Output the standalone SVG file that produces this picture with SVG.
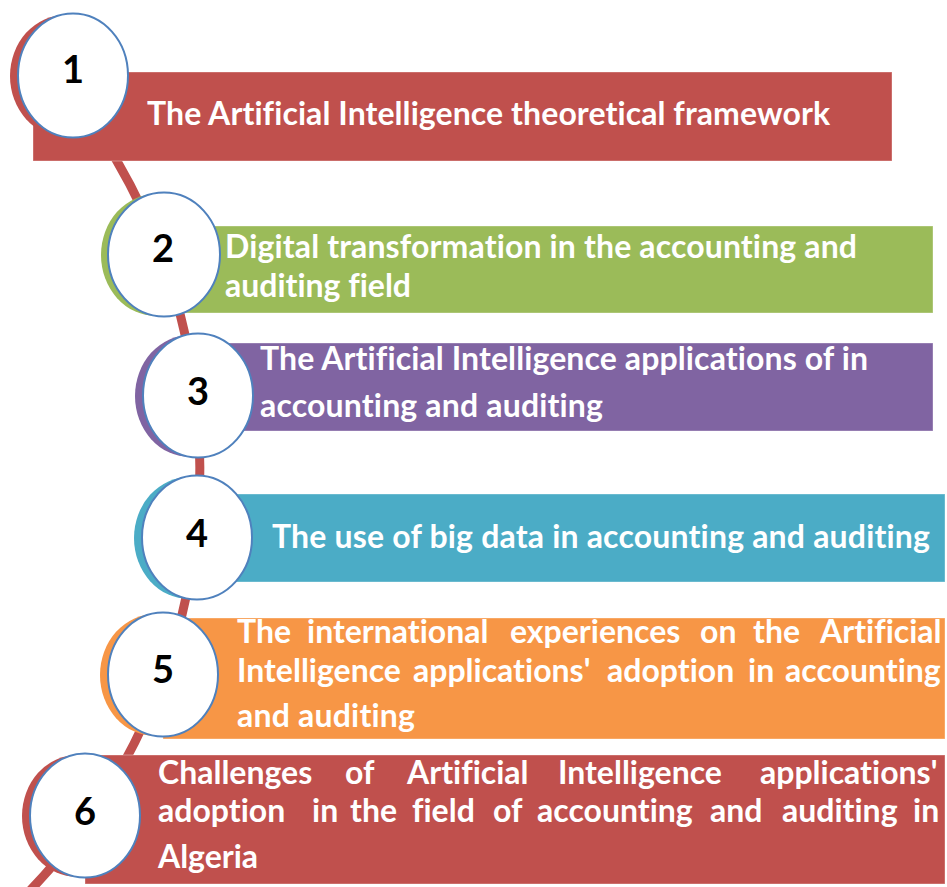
<svg xmlns="http://www.w3.org/2000/svg" width="947" height="887" viewBox="0 0 947 887">
<style>
.lbl{font-family:Lato,"Open Sans","Liberation Sans",sans-serif;font-weight:bold;font-size:32px;fill:#ffffff;font-variant-ligatures:none;font-feature-settings:"liga" 0,"clig" 0}
.num{font-family:Lato,"Open Sans","Liberation Sans",sans-serif;font-weight:bold;font-size:38px;fill:#000000;text-anchor:middle}
.disc{fill:#ffffff;stroke:#4F81BD;stroke-width:2}
.bar{stroke:#ffffff;stroke-opacity:0.35;stroke-width:1}
.red{fill:#C0504D}.green{fill:#9BBB59}.purple{fill:#8064A2}.teal{fill:#4BACC6}.orange{fill:#F79646}
</style>
<rect width="947" height="887" fill="#ffffff"/>
<g id="connectors">
<path d="M 57 76 A 610 610 0 0 1 20.7 900" fill="none" stroke="#C0504D" stroke-width="9"/>
</g>
<g id="node1">
<rect class="bar red" x="33" y="72" width="859" height="89"/>
<ellipse class="red" cx="65" cy="76" rx="55" ry="61"/>
<ellipse class="disc" cx="73" cy="75.5" rx="55" ry="62"/>
<text class="num" x="73" y="83">1</text>
<text class="lbl" x="147" y="125" textLength="683" lengthAdjust="spacing">The Artificial Intelligence theoretical framework</text>
</g>
<g id="node2">
<rect class="bar green" x="164" y="226" width="769" height="87"/>
<ellipse class="green" cx="156" cy="255" rx="55" ry="61"/>
<ellipse class="disc" cx="164" cy="254.5" rx="56" ry="62"/>
<text class="num" x="163" y="262">2</text>
<text class="lbl" x="225" y="258" textLength="632" lengthAdjust="spacing">Digital transformation in the accounting and</text>
<text class="lbl" x="225" y="297" textLength="186" lengthAdjust="spacing">auditing field</text>
</g>
<g id="node3">
<rect class="bar purple" x="198" y="343" width="735" height="88"/>
<ellipse class="purple" cx="190" cy="396" rx="55" ry="61"/>
<ellipse class="disc" cx="198" cy="395.5" rx="55" ry="62"/>
<text class="num" x="198" y="405">3</text>
<text class="lbl" x="260" y="370" textLength="608" lengthAdjust="spacing">The Artificial Intelligence applications of in</text>
<text class="lbl" x="260" y="417" textLength="343" lengthAdjust="spacing">accounting and auditing</text>
</g>
<g id="node4">
<rect class="bar teal" x="197" y="494" width="748" height="88"/>
<ellipse class="teal" cx="189" cy="538" rx="55" ry="61"/>
<ellipse class="disc" cx="197" cy="537.5" rx="55" ry="62"/>
<text class="num" x="197" y="547">4</text>
<text class="lbl" x="272" y="548" textLength="658" lengthAdjust="spacing">The use of big data in accounting and auditing</text>
</g>
<g id="node5">
<rect class="bar orange" x="163" y="618" width="782" height="121"/>
<ellipse class="orange" cx="155" cy="675" rx="55" ry="61"/>
<ellipse class="disc" cx="163" cy="674.5" rx="55" ry="62"/>
<text class="num" x="163" y="683">5</text>
<text class="lbl" y="643"><tspan x="237">The</tspan> <tspan x="307">international</tspan> <tspan x="510">experiences</tspan> <tspan x="700">on</tspan> <tspan x="753">the</tspan> <tspan x="820">Artificial</tspan></text>
<text class="lbl" y="682"><tspan x="237">Intelligence</tspan> <tspan x="413">applications'</tspan> <tspan x="607">adoption</tspan> <tspan x="748">in</tspan> <tspan x="785">accounting</tspan></text>
<text class="lbl" x="237" y="727" textLength="178" lengthAdjust="spacing">and auditing</text>
</g>
<g id="node6">
<rect class="bar red" x="85" y="755" width="860" height="129"/>
<ellipse class="red" cx="77" cy="816" rx="55" ry="61"/>
<ellipse class="disc" cx="85" cy="815.5" rx="55" ry="62"/>
<text class="num" x="85" y="825">6</text>
<text class="lbl" y="784"><tspan x="158">Challenges</tspan> <tspan x="345">of</tspan> <tspan x="407">Artificial</tspan> <tspan x="558">Intelligence</tspan> <tspan x="760">applications'</tspan></text>
<text class="lbl" y="822"><tspan x="158">adoption</tspan> <tspan x="312">in</tspan> <tspan x="350">the</tspan> <tspan x="412">field</tspan> <tspan x="493">of</tspan> <tspan x="537">accounting</tspan> <tspan x="710">and</tspan> <tspan x="782">auditing</tspan> <tspan x="913">in</tspan></text>
<text class="lbl" x="158" y="868" textLength="100" lengthAdjust="spacing">Algeria</text>
</g>
</svg>
